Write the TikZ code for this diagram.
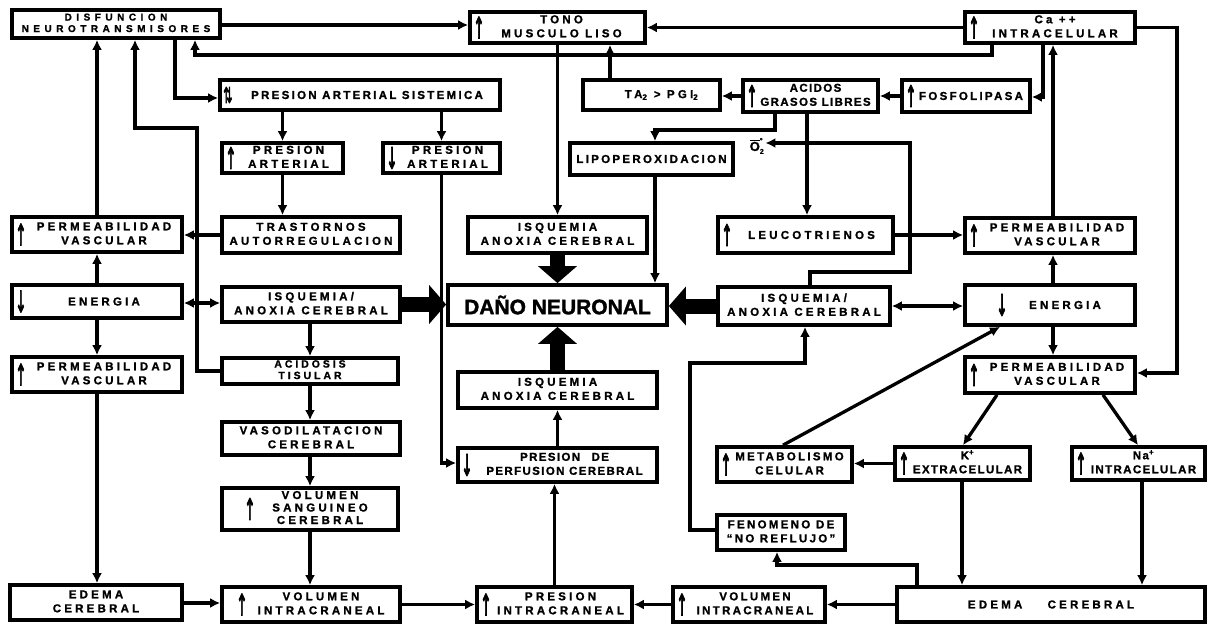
\documentclass[tikz,border=0pt]{standalone}
\usepackage{fontspec}
\usepackage{graphicx}
\usetikzlibrary{arrows.meta}
\setmainfont{Liberation Sans}
\newfontfamily\lf{Liberation Sans}[LetterSpace=28, BoldFeatures={FakeBold=1.2}]
\newfontfamily\lfm{Liberation Sans}[LetterSpace=20, BoldFeatures={FakeBold=1.2}]
\newfontfamily\lfn{Liberation Sans}[LetterSpace=12, BoldFeatures={FakeBold=1.2}]
\newfontfamily\lfw{Liberation Sans}[LetterSpace=45, BoldFeatures={FakeBold=1.2}]
\newfontfamily\df{Liberation Sans}[BoldFeatures={FakeBold=1.5}]
\newfontfamily\af{DejaVu Sans}[FakeBold=4]
\newcommand{\tb}[1]{\begin{tabular}{@{}c@{}}#1\end{tabular}}
\newcommand{\UPa}{\scalebox{0.95}[2.1]{\af\fontsize{14}{14}\selectfont ↑}}
\newcommand{\DNa}{\scalebox{0.95}[2.1]{\af\fontsize{14}{14}\selectfont ↓}}
\newcommand{\UDa}{\scalebox{0.9}[1.8]{\af\fontsize{12}{12}\selectfont ⇅}}
\tikzset{
  bx/.style={draw, line width=3.7pt, rectangle, inner sep=1pt,
    font=\lf\bfseries\fontsize{11.5}{14}\selectfont},
  wh/.style 2 args={minimum width=#1pt, minimum height=#2pt},
  ua/.style={label={[anchor=west,inner sep=0pt,xshift=#1]west:\UPa}},
  ua/.default=5pt,
  da/.style={label={[anchor=west,inner sep=0pt,xshift=#1]west:\DNa}},
  da/.default=5pt,
  uda/.style={label={[anchor=west,inner sep=0pt,xshift=5pt]west:\UDa}},
  con/.style={line width=3.3pt, -{Latex[length=10pt,width=10pt]}},
  con2/.style={line width=3.3pt, {Latex[length=10pt,width=10pt]}-{Latex[length=10pt,width=10pt]}},
  thk/.style={line width=15pt, -{Triangle[length=17pt,width=38pt]}},
}
\begin{document}
\begin{tikzpicture}[x=1pt,y=-1pt]
\fill[white] (0,0) rectangle (1209,626);
\useasboundingbox (0,0) rectangle (1209,626);

% ---------- boxes ----------
\node[bx, wh={208}{28}, font=\lfw\bfseries\fontsize{10}{11.5}\selectfont] (dis) at (116,24) {\tb{DISFUNCION\\NEUROTRANSMISORES}};
\node[bx, wh={175}{31}, ua] (tono) at (557.5,27.5) {\hspace*{8pt}\tb{TONO\\MUSCULO LISO}};
\node[bx, wh={170}{31}, ua] (ca) at (1050,27.5) {\hspace*{10pt}\tb{Ca ++\\INTRACELULAR}};
\node[bx, wh={280}{30}, uda, font=\lfm\bfseries\fontsize{11.5}{14}\selectfont] (pas) at (360,95) {\hspace*{14pt}PRESION ARTERIAL SISTEMICA};
\node[bx, wh={121}{30}, ua] (paup) at (282.5,158) {\hspace*{12pt}\tb{PRESION\\ARTERIAL}};
\node[bx, wh={117}{30}, da] (padn) at (441.5,158) {\hspace*{12pt}\tb{PRESION\\ARTERIAL}};
\node[bx, wh={137}{30}] (ta) at (651.5,95) {\hspace*{20pt}TA\textsubscript{2} > PGI\textsubscript{2}};
\node[bx, wh={135}{32}, ua, font=\lfn\bfseries\fontsize{11.5}{14}\selectfont] (acid) at (810.5,96) {\hspace*{10pt}\tb{ACIDOS\\GRASOS LIBRES}};
\node[bx, wh={128}{32}, ua, font=\lfm\bfseries\fontsize{11.5}{14}\selectfont] (fosf) at (966,96) {\hspace*{10pt}FOSFOLIPASA};
\node[bx, wh={163}{32}, font=\lfm\bfseries\fontsize{11.5}{14}\selectfont] (lipo) at (651.5,159) {LIPOPEROXIDACION};
\node[font=\lf\bfseries\fontsize{13}{14}\selectfont, inner sep=1pt] (o2) at (757,146) {$\overline{\hbox{O}}^{\hbox{\scriptsize °}}_{\hbox{\scriptsize 2}}$};

\node[bx, wh={170}{35}, ua] (permL1) at (97,234.5) {\hspace*{14pt}\tb{PERMEABILIDAD\\VASCULAR}};
\node[bx, wh={178}{36}] (trast) at (311,235) {\tb{TRASTORNOS\\AUTORREGULACION}};
\node[bx, wh={179}{36}] (isqT) at (557.5,235) {\tb{ISQUEMIA\\ANOXIA CEREBRAL}};
\node[bx, wh={175}{36}, ua] (leuco) at (805.5,235) {\hspace*{12pt}LEUCOTRIENOS};
\node[bx, wh={170}{35}, ua] (permR1) at (1050,235.5) {\hspace*{14pt}\tb{PERMEABILIDAD\\VASCULAR}};

\node[bx, wh={170}{33}, da] (enL) at (97,301.5) {\hspace*{14pt}ENERGIA};
\node[bx, wh={178}{35}] (isqL) at (311,304.5) {\tb{ISQUEMIA/\\ANOXIA CEREBRAL}};
\node[bx, wh={219}{40}, font=\df\bfseries\fontsize{21}{24}\selectfont] (dano) at (557.5,305) {DAÑO NEURONAL};
\node[bx, wh={172}{38}] (isqR) at (804,306) {\tb{ISQUEMIA/\\ANOXIA CEREBRAL}};
\node[bx, wh={170}{40}, da=33pt] (enR) at (1050,305) {\hspace*{30pt}ENERGIA};

\node[bx, wh={170}{35}, ua] (permL2) at (97,374.5) {\hspace*{14pt}\tb{PERMEABILIDAD\\VASCULAR}};
\node[bx, wh={176}{26}, font=\lf\bfseries\fontsize{10.5}{11.5}\selectfont] (acido) at (310,371) {\tb{ACIDOSIS\\TISULAR}};
\node[bx, wh={199}{36}] (isqB) at (557.5,390) {\tb{ISQUEMIA\\ANOXIA CEREBRAL}};
\node[bx, wh={170}{36}, ua] (permR2) at (1050,375) {\hspace*{14pt}\tb{PERMEABILIDAD\\VASCULAR}};

\node[bx, wh={178}{33}] (vaso) at (311,438.5) {\tb{VASODILATACION\\CEREBRAL}};
\node[bx, wh={199}{34}, da, font=\lfn\bfseries\fontsize{11.5}{14}\selectfont] (pperf) at (557.5,465) {\hspace*{14pt}\tb{PRESION\quad DE\\PERFUSION CEREBRAL}};
\node[bx, wh={135}{35}, ua, font=\lfm\bfseries\fontsize{11.5}{14}\selectfont] (metab) at (784.5,464.5) {\hspace*{10pt}\tb{METABOLISMO\\CELULAR}};
\node[bx, wh={135}{33}, ua, font=\lfn\bfseries\fontsize{11.5}{14}\selectfont] (kext) at (962.5,463.5) {\hspace*{10pt}\tb{K\textsuperscript{+}\\EXTRACELULAR}};
\node[bx, wh={133}{33}, ua, font=\lfn\bfseries\fontsize{11.5}{14}\selectfont] (naint) at (1138.5,463.5) {\hspace*{10pt}\tb{Na\textsuperscript{+}\\INTRACELULAR}};

\node[bx, wh={176}{42}, ua=24pt, font=\lf\bfseries\fontsize{11.5}{12.5}\selectfont] (volsang) at (310,509) {\hspace*{20pt}\tb{VOLUMEN\\SANGUINEO\\CEREBRAL}};
\node[bx, wh={128}{35}, font=\lfm\bfseries\fontsize{11.5}{14}\selectfont] (fenom) at (781,532.5) {\tb{FENOMENO\enspace DE\\“NO REFLUJO”}};

\node[bx, wh={172}{35}] (edL) at (96,602.5) {\tb{EDEMA\\CEREBRAL}};
\node[bx, wh={178}{35}, ua=16pt] (viL) at (311,604.5) {\hspace*{20pt}\tb{VOLUMEN\\INTRACRANEAL}};
\node[bx, wh={155}{35}, ua] (pi) at (554.5,604.5) {\hspace*{12pt}\tb{PRESION\\INTRACRANEAL}};
\node[bx, wh={152}{35}, ua, font=\lfm\bfseries\fontsize{11.5}{14}\selectfont] (viR) at (749,604.5) {\hspace*{12pt}\tb{VOLUMEN\\INTRACRANEAL}};
\node[bx, wh={308}{35}] (edR) at (1051,604.5) {EDEMA\hspace{2.2em}CEREBRAL};

% ---------- connectors ----------
\draw[con] (dis.east |- 0,25) -- (tono.west |- 0,25);
\draw[con] (ca.west) -- (tono.east);
\draw[con] (ca.south -| 992,0) -- (992,55) -- (195,55) -- (dis.south -| 195,0);
\draw[con] (dis.south -| 175,0) -- (175,98) -- (pas.west |- 0,98);
\draw[con] (permL1.north) -- (dis.south -| permL1.north);
\draw[con] (acido.west) -- (197,371) -- (197,128) -- (135,128) -- (dis.south -| 135,0);
\draw[con] (pas.south -| paup.north) -- (paup.north);
\draw[con] (pas.south -| padn.north) -- (padn.north);
\draw[con] (paup.south) -- (trast.north -| paup.south);
\draw[con] (padn.south) -- (padn.south |- 0,463) -- (pperf.west |- 0,463);
\draw[con] (trast.west) -- (permL1.east |- trast.west);
\draw[con2] (enL.east |- 0,303) -- (isqL.west |- 0,303);
\draw[con] (enL.north) -- (permL1.south);
\draw[con] (enL.south) -- (permL2.north);
\draw[con] (permL2.south) -- (edL.north -| permL2.south);
\draw[con] (edL.east |- 0,603) -- (viL.west |- 0,603);
\draw[con] (isqL.south -| 310,0) -- (acido.north -| 310,0);
\draw[con] (acido.south -| 310,0) -- (vaso.north -| 310,0);
\draw[con] (vaso.south -| 310,0) -- (volsang.north -| 310,0);
\draw[con] (volsang.south -| 310,0) -- (viL.north -| 310,0);
\draw[con] (viL.east) -- (pi.west);
\draw[con] (viR.west) -- (pi.east);
\draw[con] (edR.west) -- (viR.east);
\draw[con] (pi.north) -- (pperf.south -| pi.north);
\draw[con] (pperf.north) -- (isqB.south);
\draw[con] (tono.south) -- (isqT.north);
\draw[con] (ta.north -| 610,0) -- (tono.south -| 610,0);
\draw[con] (acid.west) -- (ta.east |- acid.west);
\draw[con] (fosf.west) -- (acid.east);
\draw[con] (ca.south -| 1043,0) -- (1043,97) -- (fosf.east |- 0,97);
\draw[con] (permR1.north -| 1053,0) -- (ca.south -| 1053,0);
\draw[con] (ca.east) -- (1177,27.5) -- (1177,373) -- (permR2.east |- 0,373);
\draw[con] (acid.south -| 775,0) -- (775,130) -- (655,130) -- (lipo.north -| 655,0);
\draw[con] (lipo.south -| 655,0) -- (dano.north -| 655,0);
\draw[con] (acid.south -| 807,0) -- (leuco.north -| 807,0);
\draw[con] (leuco.east) -- (permR1.west |- leuco.east);
\draw[con] (isqR.north -| 810,0) -- (810,272) -- (910,272) -- (910,143) -- (o2.east |- 0,143);
\draw[con2] (isqR.east) -- (enR.west |- isqR.east);
\draw[con] (enR.north -| 1053,0) -- (permR1.south -| 1053,0);
\draw[con] (enR.south -| 1053,0) -- (permR2.north -| 1053,0);
\draw[con] (permR2.south -| 997,0) -- (kext.north -| 963,0);
\draw[con] (permR2.south -| 1103,0) -- (naint.north -| 1138,0);
\draw[con] (kext.west) -- (metab.east |- kext.west);
\draw[con] (metab.north -| 783,0) -- (enR.south -| 1000,0);
\draw[con] (kext.south -| 962,0) -- (edR.north -| 962,0);
\draw[con] (naint.south -| 1142,0) -- (edR.north -| 1142,0);
\draw[con] (edR.north -| 917,0) -- (917,565) -- (777,565) -- (fenom.south -| 777,0);
\draw[con] (fenom.west |- 0,530) -- (690,530) -- (690,363) -- (805,363) -- (isqR.south -| 805,0);

% ---------- thick arrows into DANO NEURONAL ----------
\draw[thk] (isqT.south) -- (dano.north);
\draw[thk] (isqB.north) -- (dano.south);
\draw[thk] (isqL.east) -- (dano.west |- isqL.east);
\draw[thk] (isqR.west) -- (dano.east |- isqR.west);
\end{tikzpicture}
\end{document}
